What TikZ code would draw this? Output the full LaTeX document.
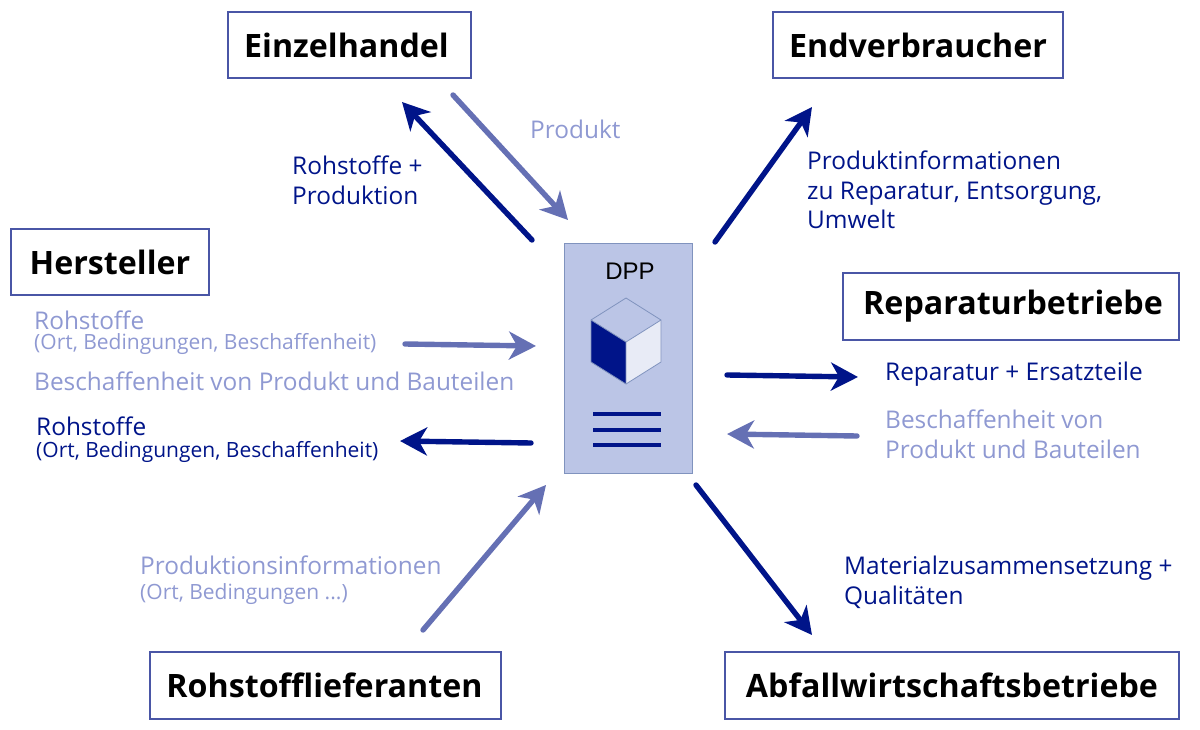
\documentclass[tikz,border=0pt]{standalone}
\usepackage{fontspec}
\setmainfont{Open Sans}
\newfontfamily\dppfont{Liberation Sans}
\usetikzlibrary{arrows.meta}
\definecolor{dark}{HTML}{001489}
\definecolor{mid}{HTML}{6570B4}
\definecolor{light}{HTML}{8F99D2}
\definecolor{boxline}{HTML}{4A56A6}
\definecolor{panel}{HTML}{BBC5E6}
\definecolor{panelline}{HTML}{8093BE}
\definecolor{facepale}{HTML}{E8EBF6}
\newcommand\acttext[2][0pt]{\hspace*{#1}\raisebox{-2pt}{#2}}
\tikzset{
 x=1pt,y=-1pt,
 actor/.style={draw=boxline,line width=1.6pt,outer sep=0pt,fill=white,font=\fontsize{32.2}{36}\selectfont\bfseries,text=black,inner sep=0pt,anchor=north west},
 darrow/.style={draw=dark,line width=5.4pt,line cap=round,-{Stealth[length=27pt,width=28pt,inset=8pt]}},
 marrow/.style={draw=mid,line width=5.4pt,line cap=round,-{Stealth[length=27pt,width=28pt,inset=8pt]}},
 lab/.style={anchor=north west,inner sep=0pt,align=left,font=\fontsize{24.4}{29.5}\selectfont},
 small/.style={font=\fontsize{21}{24}\selectfont},
 cubeedge/.style={draw=panelline,line width=0.8pt,line join=round},
 docline/.style={draw=dark,line width=3.4pt},
}
\begin{document}
\begin{tikzpicture}
\useasboundingbox (0,0) rectangle (1200,730);
\node[actor,minimum width=243pt,minimum height=66pt] (einzel) at (228,12) {\acttext[-6pt]{Einzelhandel}};
\node[actor,minimum width=290pt,minimum height=66pt] (endv) at (773,12) {\acttext{Endverbraucher}};
\node[actor,minimum width=198pt,minimum height=66pt] (herst) at (11,229) {\acttext{Hersteller}};
\node[actor,minimum width=336pt,minimum height=67pt] (rep) at (843,273) {\acttext[4pt]{Reparaturbetriebe}};
\node[actor,minimum width=351pt,minimum height=67pt] (roh) at (150,652) {\acttext[-2pt]{Rohstofflieferanten}};
\node[actor,minimum width=454pt,minimum height=67pt] (abf) at (725,652) {\acttext{Abfallwirtschaftsbetriebe}};
% DPP panel
\node[draw=panelline,fill=panel,line width=1pt,outer sep=0pt,minimum width=127.5pt,minimum height=229.5pt,inner sep=0pt,anchor=north west] (dpp) at (564.5,243.5) {};
\node[font=\fontsize{24}{28}\selectfont\dppfont,text=black,inner sep=0pt] (dpplab) at (630,271) {DPP};
\fill[panel] (626,298) -- (661,320) -- (626,342) -- (591,320) -- cycle;
\fill[dark] (591,320) -- (626,342) -- (626,384) -- (591,362) -- cycle;
\fill[facepale] (661,320) -- (626,342) -- (626,384) -- (661,362) -- cycle;
\draw[cubeedge] (626,298) -- (661,320) -- (661,362) -- (626,384) -- (591,362) -- (591,320) -- cycle;
\draw[cubeedge] (591,320) -- (626,342) -- (661,320) (626,342) -- (626,384);
\draw[docline] (593,414) -- (661,414);
\draw[docline] (593,430) -- (661,430);
\draw[docline] (593,445) -- (661,445);
% arrow ends
\coordinate (a1s) at (532,240); \coordinate (a1e) at (402,102);
\coordinate (a2s) at (453,95);  \coordinate (a2e) at (568,220);
\coordinate (a3s) at (715,242); \coordinate (a3e) at (812,107);
\coordinate (a4s) at (405,344); \coordinate (a4e) at (536,346);
\coordinate (a5s) at (531,443); \coordinate (a5e) at (400,441);
\coordinate (a6s) at (423,630); \coordinate (a6e) at (546,485);
\coordinate (a7s) at (727,375); \coordinate (a7e) at (858,377);
\coordinate (a8s) at (857,436); \coordinate (a8e) at (727,434);
\coordinate (a9s) at (696,485); \coordinate (a9e) at (812,635);
\draw[darrow] (a1s) -- (a1e);
\draw[marrow] (a2s) -- (a2e);
\draw[darrow] (a3s) -- (a3e);
\draw[marrow] (a4s) -- (a4e);
\draw[darrow] (a5s) -- (a5e);
\draw[marrow] (a6s) -- (a6e);
\draw[darrow] (a7s) -- (a7e);
\draw[marrow] (a8s) -- (a8e);
\draw[darrow] (a9s) -- (a9e);
% labels
\node[lab,text=light] (t1) at (530,120) {Produkt};
\node[lab,text=dark] (t2) at (292,156) {Rohstoffe +\\Produktion};
\node[lab,text=dark] (t3) at (807,151) {Produktinformationen\\zu Reparatur, Entsorgung,\\Umwelt};
\node[lab,text=light] (t4) at (34,311) {Rohstoffe};
\node[lab,small,text=light] (t5) at (34,333) {(Ort, Bedingungen, Beschaffenheit)};
\node[lab,text=light] (t6) at (34,372) {Beschaffenheit von Produkt und Bauteilen};
\node[lab,text=dark] (t7) at (36,417) {Rohstoffe};
\node[lab,small,text=dark] (t8) at (36,441) {(Ort, Bedingungen, Beschaffenheit)};
\node[lab,text=light] (t9) at (140,556) {Produktionsinformationen};
\node[lab,small,text=light] (t10) at (140,583) {(Ort, Bedingungen ...)};
\node[lab,text=dark] (t11) at (885,362) {Reparatur + Ersatzteile};
\node[lab,text=light] (t12) at (885,410) {Beschaffenheit von\\Produkt und Bauteilen};
\node[lab,text=dark] (t13) at (844,556) {Materialzusammensetzung +\\Qualitäten};
\end{tikzpicture}
\end{document}
